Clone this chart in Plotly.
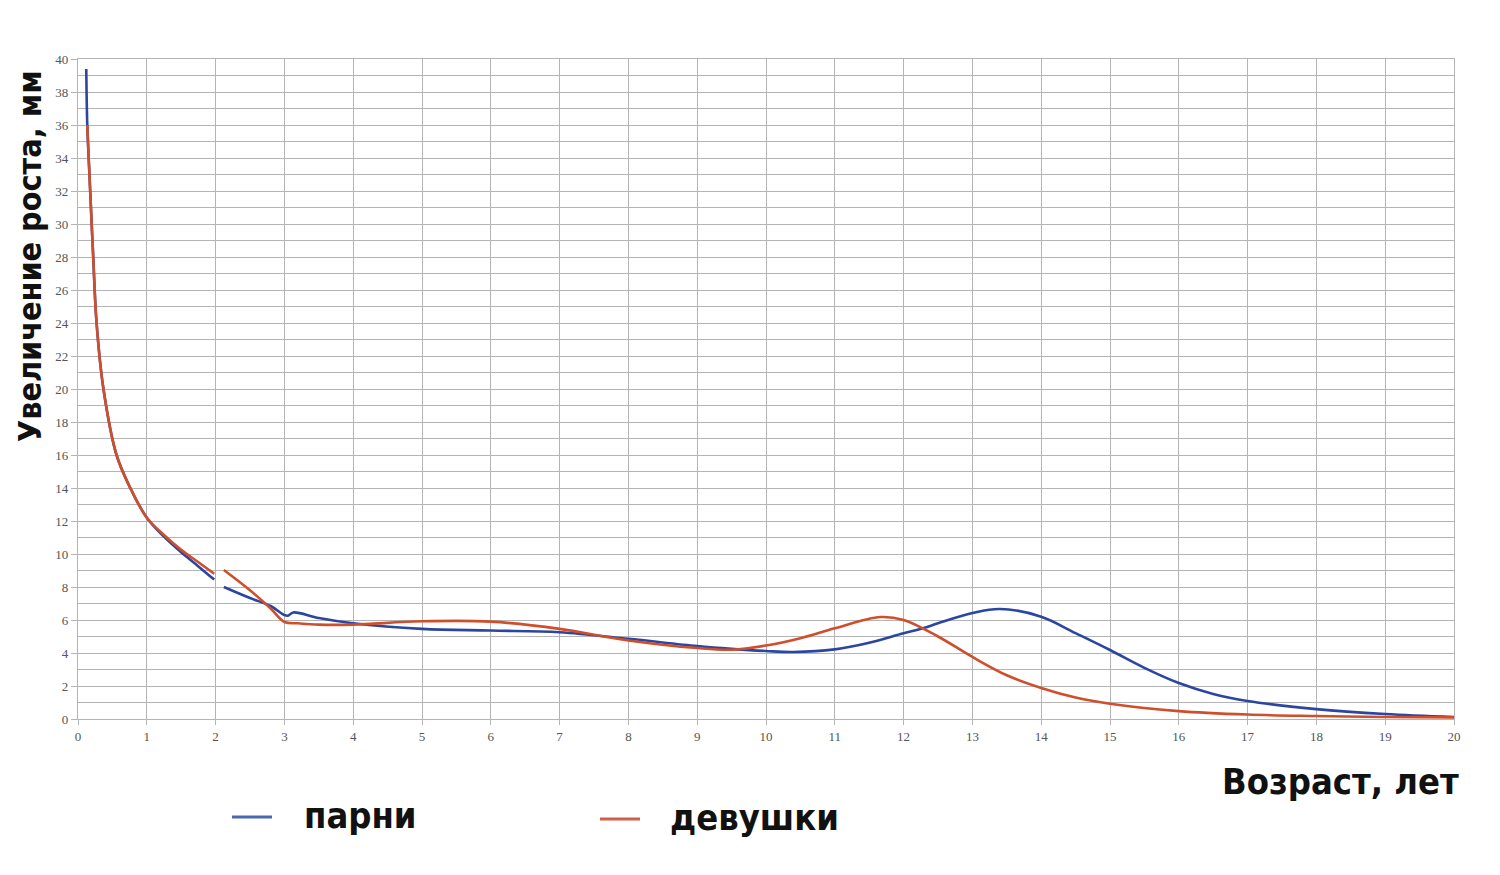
import plotly.graph_objects as go

# Boys (парни)
boys_x = [0.12, 0.135, 0.175, 0.22, 0.27, 0.37, 0.56, 0.76, 1.0, 1.25, 1.5, 1.75, 1.98, None,
          2.12, 2.5, 2.8, 3.0, 3.05, 3.13, 3.5, 4, 5, 6, 7, 8, 9, 9.5, 10, 10.4, 11, 11.5, 12,
          12.28, 12.5, 13, 13.4, 14, 14.5, 15, 15.5, 16, 16.5, 17, 18, 19, 20]
boys_y = [39.4, 36.0, 32.2, 28.1, 24.0, 20.0, 16.0, 14.0, 12.2, 11.05, 10.1, 9.25, 8.45, None,
          8.0, 7.33, 6.85, 6.3, 6.26, 6.46, 6.12, 5.8, 5.46, 5.36, 5.26, 4.86, 4.42, 4.25, 4.12,
          4.06, 4.22, 4.62, 5.2, 5.5, 5.8, 6.42, 6.67, 6.2, 5.2, 4.18, 3.1, 2.18, 1.52, 1.09,
          0.6, 0.3, 0.12]

# Girls (девушки)
girls_x = [0.135, 0.175, 0.22, 0.27, 0.37, 0.56, 0.76, 1.0, 1.25, 1.5, 1.75, 1.98, None,
           2.12, 2.5, 2.8, 3.0, 3.2, 3.5, 4, 5, 6, 7, 8, 9, 9.5, 10, 10.5, 11, 11.66, 12, 12.5,
           13, 13.5, 14, 14.5, 15, 16, 17, 18, 19, 20]
girls_y = [36.0, 32.2, 28.1, 24.0, 20.0, 16.0, 14.0, 12.2, 11.15, 10.25, 9.5, 8.8, None,
           9.03, 7.8, 6.7, 5.88, 5.8, 5.72, 5.72, 5.92, 5.9, 5.46, 4.76, 4.3, 4.2, 4.45, 4.9,
           5.5, 6.18, 6.0, 5.0, 3.76, 2.65, 1.88, 1.3, 0.92, 0.48, 0.27, 0.18, 0.12, 0.1]

x_ticks = list(range(0, 21))
y_ticks = list(range(0, 41, 2))

series_names = ["парни", "девушки"]
series_colors = ["#2b46a0", "#cf4f2c"]
legend_colors = ["#4a68b0", "#d0604a"]
x_title = "Возраст, лет"
y_title = "Увеличение роста, мм"

# page body has an 8px margin; work in page pixels and convert
OFF = 8
W, H = 1484, 859
PL, PR, PT, PB = 78, 1454, 59, 719  # plot area in page pixels
L, T = PL - OFF, PT - OFF
R = W - (PR - OFF)
B = H - (PB - OFF)
pw, ph = PR - PL, PB - PT

def px_x(p):
    return (p - PL) / pw

def px_y(p):
    return (PB - p) / ph

fig = go.Figure()
fig.add_trace(go.Scatter(x=boys_x, y=boys_y, mode="lines", name=series_names[0],
                         line=dict(color=series_colors[0], width=2.6, shape="spline", smoothing=1.0),
                         connectgaps=False, showlegend=False))
fig.add_trace(go.Scatter(x=girls_x, y=girls_y, mode="lines", name=series_names[1],
                         line=dict(color=series_colors[1], width=2.6, shape="spline", smoothing=1.0),
                         connectgaps=False, showlegend=False))

grid_col = "#b4b4b4"
tick_font = dict(family="Liberation Serif, Times New Roman, serif", size=13, color="#555555")
bold_family = "DejaVu Sans Condensed, DejaVu Sans, sans-serif"

fig.update_layout(
    width=W, height=H,
    margin=dict(l=L, r=R, t=T, b=B, pad=0),
    paper_bgcolor="white", plot_bgcolor="white",
    showlegend=False,
    xaxis=dict(range=[0, 20], tickvals=x_ticks, ticktext=[str(v) for v in x_ticks],
               showgrid=True, gridcolor=grid_col, gridwidth=1.3,
               showline=True, linecolor=grid_col, linewidth=1.3, mirror=True,
               ticks="outside", ticklen=5, tickcolor=grid_col, tickfont=tick_font,
               zeroline=False, fixedrange=True),
    yaxis=dict(range=[0, 40], tickvals=y_ticks, ticktext=[str(v) for v in y_ticks],
               showgrid=True, gridcolor=grid_col, gridwidth=1.3,
               minor=dict(dtick=1, showgrid=True, gridcolor=grid_col, gridwidth=1.1),
               showline=True, linecolor=grid_col, linewidth=1.3, mirror=True,
               ticks="outside", ticklen=6, tickcolor=grid_col, tickfont=tick_font,
               zeroline=False, fixedrange=True),
)

fig.add_annotation(text=y_title, xref="paper", yref="paper", x=px_x(30), y=px_y(256),
                   xanchor="center", yanchor="middle", textangle=-90, showarrow=False,
                   font=dict(family=bold_family, size=32, color="#111111", weight="bold"))
fig.add_annotation(text=x_title, xref="paper", yref="paper", x=px_x(1340), y=px_y(781),
                   xanchor="center", yanchor="middle", showarrow=False,
                   font=dict(family=bold_family, size=36, color="#111111", weight="bold"))

# legend (drawn manually for exact placement)
legend_items = [(232, 272, 302, 817), (600, 640, 668, 819)]
for (x0, x1, xt, yc), name, col in zip(legend_items, series_names, legend_colors):
    fig.add_shape(type="line", xref="paper", yref="paper", x0=px_x(x0), x1=px_x(x1),
                  y0=px_y(yc), y1=px_y(yc), line=dict(color=col, width=3.2))
    fig.add_annotation(text=name, xref="paper", yref="paper", x=px_x(xt), y=px_y(yc - 2),
                       xanchor="left", yanchor="middle", showarrow=False,
                       font=dict(family=bold_family, size=36, color="#111111", weight="bold"))

fig.write_html("out.html")
